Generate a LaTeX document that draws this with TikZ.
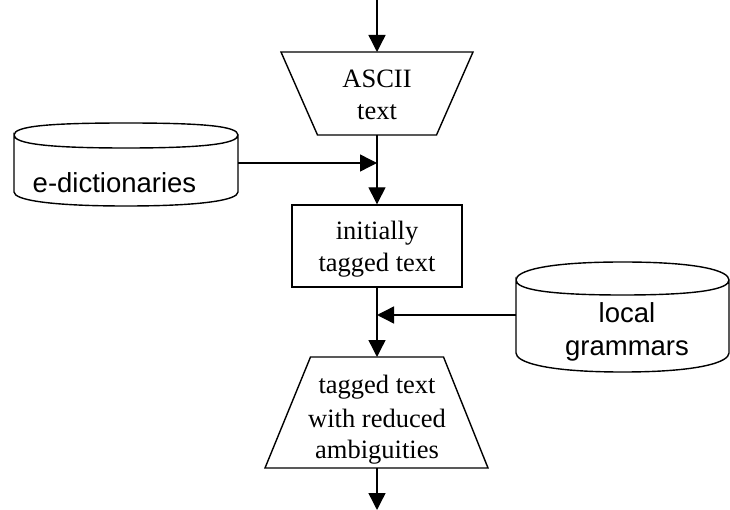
\documentclass[tikz,border=0pt]{standalone}
\usepackage{fontspec}
\setmainfont{Liberation Serif}
\newfontfamily\labelsans{Liberation Sans}
\usetikzlibrary{arrows.meta}

\tikzset{
  flow/.style={-{Triangle[length=17pt,width=17pt]}},
  serifline/.style={font=\fontsize{26.5pt}{32pt}\selectfont, anchor=base, inner sep=0pt},
  sansline/.style={font=\labelsans\fontsize{27.5pt}{33pt}\selectfont, anchor=base, inner sep=0pt},
  procbox/.style={draw, minimum width=170pt, minimum height=82pt, inner sep=0pt},
}

\begin{document}
\begin{tikzpicture}[x=1pt, y=-1pt, line width=1.4pt]
  \useasboundingbox (0,0) rectangle (730,510);

  % input trapezoid: ASCII text
  \draw (281,52) -- (473,52) -- (436.5,135) -- (317.5,135) -- cycle;
  \coordinate (ascii-n) at (377,52);
  \coordinate (ascii-s) at (377,135);
  \node[serifline] (ascii1) at (377,88) {ASCII};
  \node[serifline] (ascii2) at (377,120) {text};

  % processing box: initially tagged text
  \node[procbox] (init) at (377,246) {};
  \node[serifline] (init1) at (377,240) {initially};
  \node[serifline] (init2) at (377,272) {tagged text};

  % output trapezoid: tagged text with reduced ambiguities
  \draw (310.5,357) -- (443.5,357) -- (488,468) -- (265,468) -- cycle;
  \coordinate (tag-n) at (377,357);
  \coordinate (tag-s) at (377,468);
  \node[serifline] (tag1) at (377,393) {tagged text};
  \node[serifline] (tag2) at (377,427) {with reduced};
  \node[serifline] (tag3) at (377,458) {ambiguities};

  % store: e-dictionaries
  \draw (14,135) .. controls (14,126) and (50,123) .. (126,123)
        .. controls (202,123) and (238,126) .. (238,135)
        .. controls (238,144) and (202,148) .. (126,148)
        .. controls (50,148) and (14,144) .. (14,135)
        -- (14,192) .. controls (14,200) and (50,206) .. (126,206)
        .. controls (202,206) and (238,200) .. (238,192) -- (238,135);
  \coordinate (dict-e) at (238,163);
  \node[sansline] (dict) at (114.5,193) {e-dictionaries};

  % store: local grammars
  \draw (516,280) .. controls (516,271) and (545,262) .. (622.5,262)
        .. controls (700,262) and (729,271) .. (729,280)
        .. controls (729,289) and (700,295) .. (622.5,295)
        .. controls (545,295) and (516,289) .. (516,280)
        -- (516,353) .. controls (516,362) and (545,372) .. (622.5,372)
        .. controls (700,372) and (729,362) .. (729,353) -- (729,280);
  \coordinate (gram-w) at (516,315);
  \node[sansline] (gram1) at (627,323) {local};
  \node[sansline] (gram2) at (627,355) {grammars};

  % junction points on the main line
  \coordinate (in) at (377,0);
  \coordinate (join1) at (377,163);
  \coordinate (join2) at (377,315);
  \coordinate (out) at (377,510);

  % connectors
  \draw[flow] (in) -- (ascii-n);
  \draw[flow] (ascii-s) -- (init.north);
  \draw[flow] (dict-e) -- (join1);
  \draw[flow] (init.south) -- (tag-n);
  \draw[flow] (gram-w) -- (join2);
  \draw[flow] (tag-s) -- (out);
\end{tikzpicture}
\end{document}
